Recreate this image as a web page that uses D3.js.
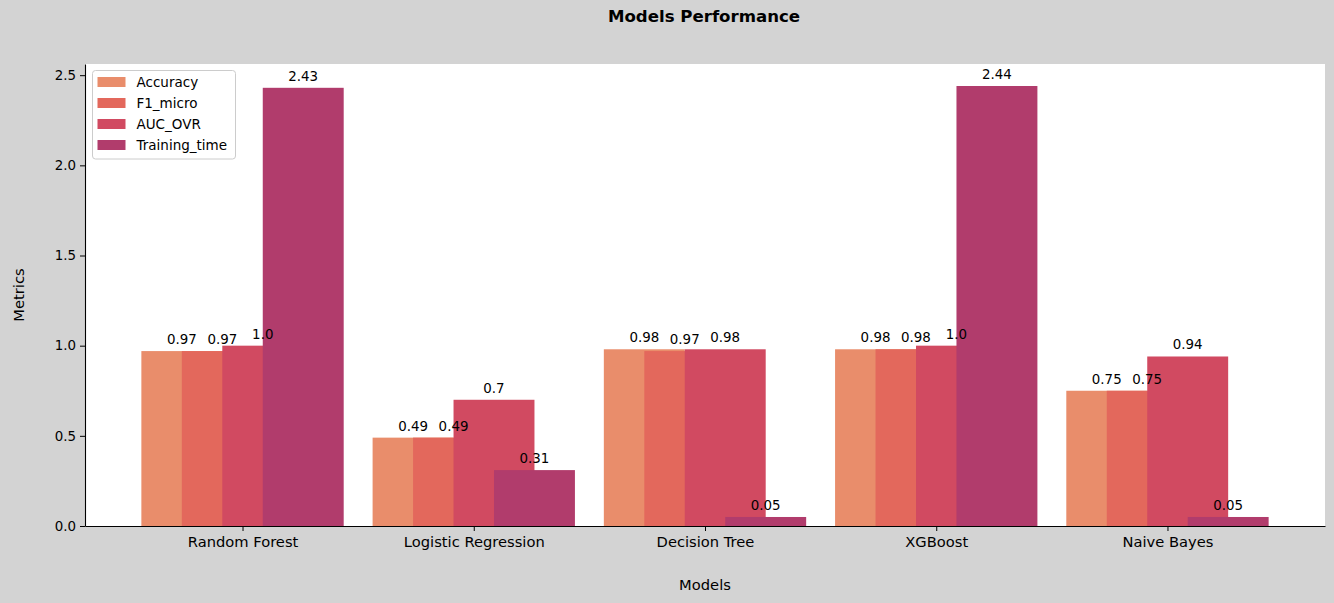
<!DOCTYPE html>
<html>
<head>
<meta charset="utf-8">
<script src="https://cdn.jsdelivr.net/npm/d3@7"></script>
<style>
  html, body { margin: 0; padding: 0; background: #d3d3d3; }
  svg { display: block; font-family: "DejaVu Sans", sans-serif; }
</style>
</head>
<body>
<svg id="chart"></svg>
<script>
// datos del grafico
var modelos = ["Random Forest", "Logistic Regression", "Decision Tree", "XGBoost", "Naive Bayes"];
var metricas = ["Accuracy", "F1_micro", "AUC_OVR", "Training_time"];
var accuracy = [0.97, 0.49, 0.98, 0.98, 0.75];
var f1Micro = [0.97, 0.49, 0.97, 0.98, 0.75];
var aucOvr = [1.0, 0.7, 0.98, 1.0, 0.94];
var trainingTime = [2.43, 0.31, 0.05, 2.44, 0.05];
var yTicks = [0, 0.5, 1.0, 1.5, 2.0, 2.5];
var colores = ["#e98d6b", "#e3685c", "#d14a61", "#b13c6c"];

var series = [accuracy, f1Micro, aucOvr, trainingTime];

var width = 1334, height = 603;
var margin = { top: 64, right: 9, bottom: 77, left: 85 };
var fuente = "13.4px";
var fuenteGrande = "14.7px";

var svg = d3.select("#chart")
    .attr("width", width)
    .attr("height", height);

svg.append("rect")
    .attr("width", width)
    .attr("height", height)
    .attr("fill", "#d3d3d3");

// area del grafico
svg.append("rect")
    .attr("x", margin.left)
    .attr("y", margin.top)
    .attr("width", width - margin.left - margin.right)
    .attr("height", height - margin.top - margin.bottom)
    .attr("fill", "#ffffff");

var anchoBarra = 0.35;
var x = d3.scaleLinear()
    .domain([-0.68125, 4.68125])
    .range([margin.left, width - margin.right]);

var y = d3.scaleLinear()
    .domain([0, 2.562])
    .range([height - margin.bottom, margin.top]);

function offset(j) {
    return (j - 1.5) * anchoBarra / 2;
}

// barras, una serie despues de otra
series.forEach(function (valores, j) {
    svg.append("g")
        .selectAll("rect")
        .data(valores)
        .enter()
        .append("rect")
        .attr("x", function (d, i) { return x(i + offset(j) - anchoBarra / 2); })
        .attr("width", x(anchoBarra) - x(0))
        .attr("y", function (d) { return y(d); })
        .attr("height", function (d) { return y(0) - y(d); })
        .attr("fill", colores[j]);
});

// etiquetas sobre las barras
function formatoValor(v) {
    return Number.isInteger(v) ? v.toFixed(1) : String(v);
}
series.forEach(function (valores, j) {
    svg.append("g")
        .selectAll("text")
        .data(valores)
        .enter()
        .append("text")
        .attr("x", function (d, i) { return x(i + offset(j)); })
        .attr("y", function (d) { return y(d) - 7; })
        .attr("text-anchor", "middle")
        .attr("font-size", fuente)
        .attr("fill", "#000")
        .text(formatoValor);
});

// ejes
var ejeY = svg.append("g")
    .attr("transform", "translate(" + margin.left + ",0)")
    .call(d3.axisLeft(y)
        .tickValues(yTicks)
        .tickFormat(d3.format(".1f"))
        .tickSize(5)
        .tickSizeOuter(0)
        .tickPadding(4));

var ejeX = svg.append("g")
    .attr("transform", "translate(0," + (height - margin.bottom) + ")")
    .call(d3.axisBottom(x)
        .tickValues(d3.range(modelos.length))
        .tickFormat(function (d) { return modelos[d]; })
        .tickSize(5)
        .tickSizeOuter(0)
        .tickPadding(6));

[ejeX, ejeY].forEach(function (eje) {
    eje.attr("font-family", "DejaVu Sans, sans-serif");
    eje.selectAll("text").attr("fill", "#000");
    eje.selectAll("line").attr("stroke", "#000").attr("stroke-width", 1);
    eje.select(".domain").attr("stroke", "#000").attr("stroke-width", 1.1);
});
ejeX.attr("font-size", fuenteGrande).selectAll("text").attr("font-size", fuenteGrande);
ejeY.attr("font-size", fuente).selectAll("text").attr("font-size", fuente);

// titulos
svg.append("text")
    .attr("x", 704)
    .attr("y", 22)
    .attr("text-anchor", "middle")
    .attr("font-size", "16.6px")
    .attr("font-weight", "bold")
    .text("Models Performance");

svg.append("text")
    .attr("x", 705)
    .attr("y", 590)
    .attr("text-anchor", "middle")
    .attr("font-size", fuenteGrande)
    .text("Models");

svg.append("text")
    .attr("transform", "translate(24," + ((margin.top + height - margin.bottom) / 2) + ") rotate(-90)")
    .attr("text-anchor", "middle")
    .attr("font-size", fuenteGrande)
    .text("Metrics");

// leyenda
var leyenda = svg.append("g");
leyenda.append("rect")
    .attr("x", 92.5)
    .attr("y", 70.5)
    .attr("width", 143)
    .attr("height", 88.5)
    .attr("rx", 3)
    .attr("fill", "#ffffff")
    .attr("fill-opacity", 0.8)
    .attr("stroke", "#cccccc");

var filas = leyenda.selectAll("g.fila")
    .data(metricas)
    .enter()
    .append("g")
    .attr("class", "fila")
    .attr("transform", function (d, i) { return "translate(0," + (82 + i * 21) + ")"; });
filas.append("rect")
    .attr("x", 97.5)
    .attr("y", -5)
    .attr("width", 28)
    .attr("height", 10)
    .attr("fill", function (d, i) { return colores[i]; });
filas.append("text")
    .attr("x", 136.5)
    .attr("y", 5)
    .attr("font-size", "13.5px")
    .text(function (d) { return d; });
</script>
</body>
</html>
